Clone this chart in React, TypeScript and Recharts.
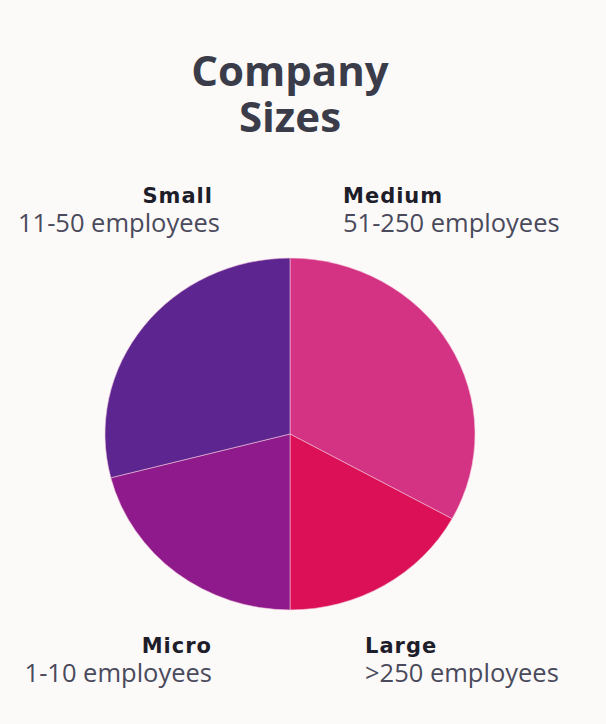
import React from "react";
import { PieChart, Pie, Cell } from "recharts";

const sizes = ["Medium", "Large", "Micro", "Small"];
const ranges = ["51-250 employees", ">250 employees", "1-10 employees", "11-50 employees"];
const shares = [33, 17, 21, 29];
const colors = ["#D43383", "#DB1057", "#8E1A8C", "#5D2590"];

const data = sizes.map((name, i) => ({ name, range: ranges[i], value: shares[i] }));

const FONT = "'Open Sans', 'Noto Sans', sans-serif";
const BOLD_FONT = "'DejaVu Sans', sans-serif";

// label anchor spots around the pie, per size
const labelSpots: Record<string, { x: number; sx: number; y: number; anchor: "start" | "end" }> = {
  Medium: { x: 343, sx: 343, y: 203, anchor: "start" },
  Large: { x: 365, sx: 365, y: 653, anchor: "start" },
  Micro: { x: 212, sx: 212, y: 653, anchor: "end" },
  Small: { x: 213, sx: 220, y: 203, anchor: "end" },
};

export default function App() {
  return (
    <div
      style={{
        position: "absolute",
        left: 0,
        top: 0,
        width: 606,
        height: 724,
        background: "#FCFAF9",
        overflow: "hidden",
      }}
    >
      <div
        style={{
          position: "absolute",
          left: 0,
          top: 0,
          transform: "scaleY(0.951)",
          transformOrigin: "290px 434px",
        }}
      >
        <PieChart width={606} height={724} margin={{ top: 0, right: 0, bottom: 0, left: 0 }}>
          <Pie
            data={data}
            dataKey="value"
            nameKey="name"
            cx={290}
            cy={434}
            outerRadius={185}
            startAngle={90}
            endAngle={-270}
            stroke="#F3C6DA"
            strokeWidth={0.6}
            isAnimationActive={false}
          >
            {data.map((d, i) => (
              <Cell key={d.name} fill={colors[i]} />
            ))}
          </Pie>
        </PieChart>
      </div>
      <svg
        width={606}
        height={724}
        style={{ position: "absolute", left: 0, top: 0, pointerEvents: "none" }}
      >
        <text x={290} y={86} textAnchor="middle" fontFamily={FONT} fontWeight={700} fontSize={42} fill="#3B3C4A">
          Company
        </text>
        <text x={290} y={132} textAnchor="middle" fontFamily={FONT} fontWeight={700} fontSize={42} fill="#3B3C4A">
          Sizes
        </text>
        {data.map((d) => {
          const s = labelSpots[d.name];
          return (
            <g key={d.name}>
              <text
                x={s.x}
                y={s.y}
                textAnchor={s.anchor}
                fontFamily={BOLD_FONT}
                fontWeight={700}
                fontSize={21}
                letterSpacing={1}
                fill="#1E1E2A"
              >
                {d.name}
              </text>
              <text x={s.sx} y={s.y + 29} textAnchor={s.anchor} fontFamily={FONT} fontSize={25.5} fill="#4A4A5C">
                {d.range}
              </text>
            </g>
          );
        })}
      </svg>
    </div>
  );
}
